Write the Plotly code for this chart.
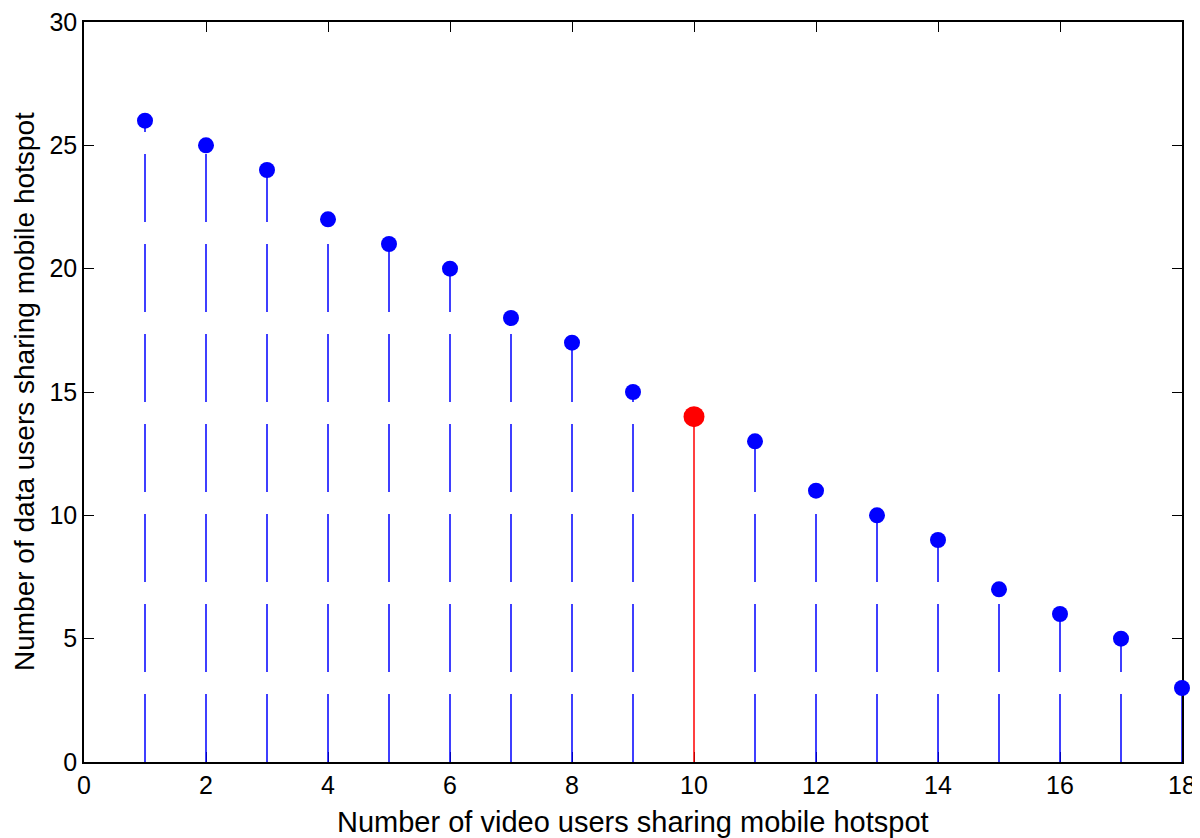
from plotly import graph_objs as go

# Данные: число видео-пользователей и число пользователей данных
video_users = list(range(1, 19))
data_users = [26, 25, 24, 22, 21, 20, 18, 17, 15, 14, 13, 11, 10, 9, 7, 6, 5, 3]
highlight_x = 10  # выделенная точка (красная)

x_ticks = list(range(0, 19, 2))
y_ticks = list(range(0, 31, 5))

BLUE = "#0000ff"
RED = "#ff0000"

fig = go.Figure()

# Стебли (stem), каждый отдельной линией снизу вверх
for xv, yv in zip(video_users, data_users):
    is_red = xv == highlight_x
    fig.add_trace(go.Scatter(
        x=[xv, xv],
        y=[0, yv],
        mode='lines',
        line=dict(color=RED if is_red else BLUE, width=1.5,
                  dash='solid' if is_red else '68px,22px'),
        hoverinfo='skip',
        showlegend=False,
    ))

# Маркеры
fig.add_trace(go.Scatter(
    x=video_users,
    y=data_users,
    mode='markers',
    marker=dict(
        color=[RED if xv == highlight_x else BLUE for xv in video_users],
        size=[21 if xv == highlight_x else 16 for xv in video_users],
        opacity=1,
        line=dict(width=0),
    ),
    cliponaxis=False,
    showlegend=False,
))

axis_style = dict(
    showline=True,
    linecolor='black',
    linewidth=1.5,
    mirror='ticks',
    ticks='inside',
    ticklen=10,
    tickwidth=1.2,
    tickcolor='black',
    showgrid=False,
    zeroline=False,
    automargin=False,
    ticklabeloverflow='allow',
    layer='below traces',
    tickfont=dict(size=25, color='black'),
)

# страница имеет отступ body 8px, поэтому размер фигуры чуть меньше окна
fig.update_layout(
    width=1192,
    height=830,
    paper_bgcolor='white',
    plot_bgcolor='white',
    font=dict(family='Liberation Sans, Arial, Helvetica, sans-serif', color='black'),
    margin=dict(l=76, r=18, t=14, b=76),
    xaxis=dict(range=[0, 18], tickvals=x_ticks, **axis_style),
    yaxis=dict(range=[0, 30], tickvals=y_ticks, **axis_style),
)

# Подписи осей
fig.add_annotation(
    xref='paper', x=0.5, yref='paper', y=0,
    yshift=-60, xanchor='center', yanchor='middle',
    text='Number of video users sharing mobile hotspot',
    showarrow=False, font=dict(size=29),
)
fig.add_annotation(
    xref='paper', x=0, yref='paper', y=0.5,
    xshift=-60, xanchor='center', yanchor='middle', textangle=-90,
    text='Number of data users sharing mobile hotspot',
    showarrow=False, font=dict(size=28),
)

fig.write_html("out.html")
